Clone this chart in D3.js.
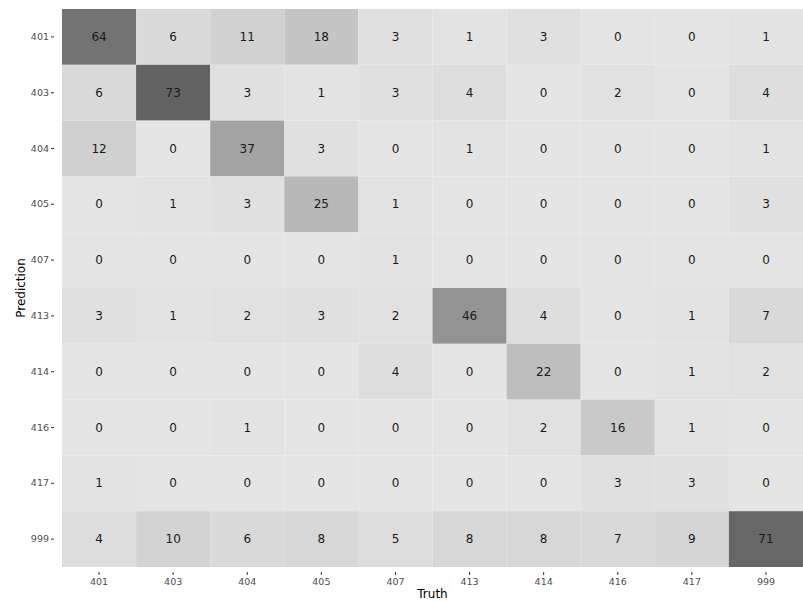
<!DOCTYPE html>
<html>
<head>
<meta charset="utf-8">
<script src="https://cdn.jsdelivr.net/npm/d3@7"></script>
<style>
  body { margin: 0; background: #fff; }
  svg { display: block; font-family: "DejaVu Sans", sans-serif; }
</style>
</head>
<body>
<svg id="chart" width="803" height="602"></svg>
<script>
// Confusion matrix: rows are predicted classes, columns are true classes
const classes = ["401", "403", "404", "405", "407", "413", "414", "416", "417", "999"];
const row401 = [64, 6, 11, 18, 3, 1, 3, 0, 0, 1];
const row403 = [6, 73, 3, 1, 3, 4, 0, 2, 0, 4];
const row404 = [12, 0, 37, 3, 0, 1, 0, 0, 0, 1];
const row405 = [0, 1, 3, 25, 1, 0, 0, 0, 0, 3];
const row407 = [0, 0, 0, 0, 1, 0, 0, 0, 0, 0];
const row413 = [3, 1, 2, 3, 2, 46, 4, 0, 1, 7];
const row414 = [0, 0, 0, 0, 4, 0, 22, 0, 1, 2];
const row416 = [0, 0, 1, 0, 0, 0, 2, 16, 1, 0];
const row417 = [1, 0, 0, 0, 0, 0, 0, 3, 3, 0];
const row999 = [4, 10, 6, 8, 5, 8, 8, 7, 9, 71];
const rows = [row401, row403, row404, row405, row407, row413, row414, row416, row417, row999];

const cells = [];
rows.forEach((r, i) => r.forEach((v, j) => cells.push({ pred: classes[i], truth: classes[j], value: v })));

const svg = d3.select("#chart");
const margin = { left: 62, top: 9, right: 0, bottom: 35 };
const width = 803, height = 602;

const x = d3.scaleBand().domain(classes).range([margin.left, width - margin.right]).padding(0);
const y = d3.scaleBand().domain(classes).range([margin.top, height - margin.bottom]).padding(0);

const maxV = d3.max(cells, d => d.value);
const color = d3.scaleLinear().domain([0, maxV]).range(["#e5e5e5", "#636363"]);

svg.append("g").selectAll("rect").data(cells).join("rect")
  .attr("x", d => x(d.truth))
  .attr("y", d => y(d.pred))
  .attr("width", x.bandwidth())
  .attr("height", y.bandwidth())
  .attr("fill", d => color(d.value));

svg.append("g").selectAll("text").data(cells).join("text")
  .attr("x", d => x(d.truth) + x.bandwidth() / 2)
  .attr("y", d => y(d.pred) + y.bandwidth() / 2)
  .attr("text-anchor", "middle")
  .attr("dominant-baseline", "central")
  .attr("font-size", 12)
  .attr("fill", "#1a1a1a")
  .text(d => d.value);

// Axes
const xAxis = svg.append("g")
  .attr("transform", `translate(0,${height - margin.bottom + 5})`)
  .call(d3.axisBottom(x).tickSize(3).tickPadding(3));
const yAxis = svg.append("g")
  .attr("transform", `translate(${margin.left - 8},0)`)
  .call(d3.axisLeft(y).tickSize(3).tickPadding(2));

[xAxis, yAxis].forEach(g => {
  g.select(".domain").remove();
  g.selectAll("line").attr("stroke", "#333").attr("stroke-width", 1);
  g.selectAll("text").attr("fill", "#4d4d4d").attr("font-size", 9.5)
    .attr("font-family", "DejaVu Sans, sans-serif");
});

svg.append("text")
  .attr("x", (margin.left + width) / 2)
  .attr("y", 598)
  .attr("text-anchor", "middle")
  .attr("font-size", 12)
  .attr("fill", "#000")
  .text("Truth");

svg.append("text")
  .attr("transform", `translate(25,${(margin.top + height - margin.bottom) / 2}) rotate(-90)`)
  .attr("text-anchor", "middle")
  .attr("font-size", 12)
  .attr("fill", "#000")
  .text("Prediction");
</script>
</body>
</html>
